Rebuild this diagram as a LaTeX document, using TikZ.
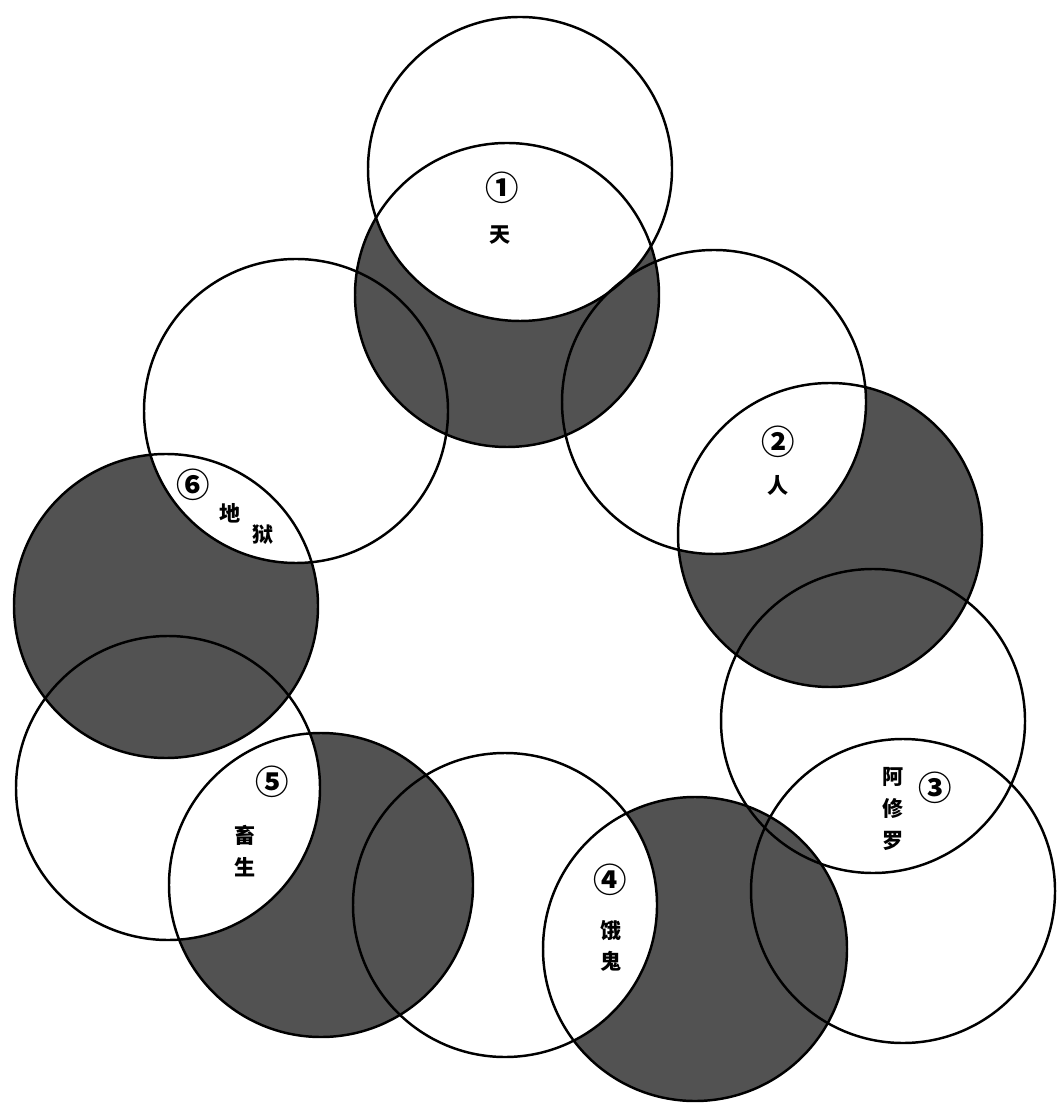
\documentclass[tikz,border=0pt]{standalone}
\usepackage{fontspec}
\newfontfamily\cjk{Noto Sans CJK SC}
\usepackage{xcolor}
\definecolor{ashgray}{RGB}{82,82,82}

\begin{document}
\begin{tikzpicture}[x=0.01cm, y=-0.01cm,
  ring/.style={draw, line width=0.7pt},
  num/.style={font=\cjk\bfseries\fontsize{9.5}{10}\selectfont, inner sep=0pt},
  lbl/.style={font=\cjk\bfseries\fontsize{6}{9}\selectfont, align=center, inner sep=0pt},
]
  \useasboundingbox (0,0) rectangle (1059,1104);
  % --- circle centres, clockwise from the top ---
  \coordinate (w1) at (520,169);  \coordinate (d1) at (507,295);
  \coordinate (w2) at (714,402);  \coordinate (d2) at (830,535);
  \coordinate (w3) at (873,721);  \coordinate (v3) at (903,891);
  \coordinate (d4) at (695,949);  \coordinate (w4) at (505,905);
  \coordinate (d5) at (321,885);  \coordinate (w5) at (168,788);
  \coordinate (d6) at (166,606);  \coordinate (w6) at (296,411);
  % --- dark discs ---
  \foreach \c in {d1,d2,d4,d5,d6}
    \fill[ashgray] (\c) circle[radius=152];
  % --- white lenses ---
  \foreach \c/\w in {d1/w1,d2/w2,d4/w4,d5/w5,d6/w6}
  { \begin{scope}
      \clip (\c) circle[radius=152];
      \fill[white] (\w) circle[radius=152];
    \end{scope} }
  % --- outlines ---
  \foreach \c in {w1,d1,w2,d2,w3,v3,d4,w4,d5,w5,d6,w6}
    \draw[ring] (\c) circle[radius=152];
  % --- labels ---
  \node[num] (n1) at (502,188) {①};
  \node[lbl] (t1) at (500,235) {天};
  \node[num] (n2) at (778,442) {②};
  \node[lbl] (t2) at (778,485) {人};
  \node[num] (n3) at (935,788) {③};
  \node[lbl] (t3) at (893,809) {阿\\修\\罗};
  \node[num] (n4) at (610,880) {④};
  \node[lbl] (t4) at (611,946) {饿\\鬼};
  \node[num] (n5) at (272,782) {⑤};
  \node[lbl] (t5) at (245,851) {畜\\生};
  \node[num] (n6) at (193,485) {⑥};
  \node[lbl] (t6a) at (230,513) {地};
  \node[lbl] (t6b) at (263,535) {狱};
\end{tikzpicture}
\end{document}
